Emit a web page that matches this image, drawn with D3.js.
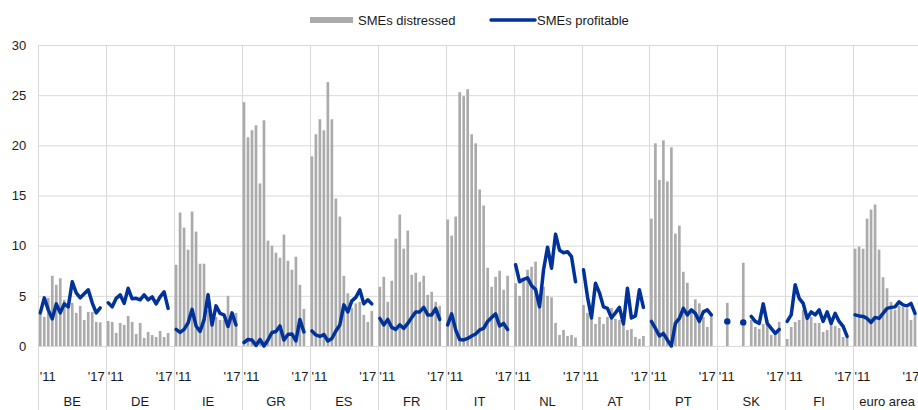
<!DOCTYPE html>
<html>
<head>
<meta charset="utf-8">
<script src="https://cdn.jsdelivr.net/npm/d3@7"></script>
<style>
  body { margin: 0; background: #fff; }
  svg { display: block; font-family: "Liberation Sans", Arial, sans-serif; }
</style>
</head>
<body>
<div id="chart"></div>
<script>
// categories
const countries = ['BE', 'DE', 'IE', 'GR', 'ES', 'FR', 'IT', 'NL', 'AT', 'PT', 'SK', 'FI', 'euro area'];
const waveCount = 16;          // survey waves per country, '11 to '17
const startLabel = "'11";
const endLabel = "'17";
const yTicks = [0, 5, 10, 15, 20, 25, 30];

// SMEs distressed (bars), one row per country, in the order above
const distressed = [
  [3.2, 2.9, 4.8, 7.0, 6.1, 6.75, 4.6, 3.9, 4.3, 3.3, 4.0, 2.6, 3.4, 3.4, 2.4, 2.35],
  [2.5, 2.4, 1.3, 2.3, 2.1, 3.0, 2.4, 1.2, 2.3, 0.8, 1.4, 1.1, 0.9, 1.5, 0.9, 1.3],
  [8.1, 13.3, 11.8, 9.6, 13.4, 11.4, 8.2, 8.2, 3.6, 3.0, 2.9, 2.6, 2.6, 5.0, 2.8, 3.3],
  [24.3, 20.8, 21.5, 22.0, 16.2, 22.5, 10.5, 10.0, 9.3, 8.8, 11.1, 8.5, 7.6, 8.9, 6.1, 3.7],
  [18.9, 21.1, 22.6, 21.5, 26.3, 22.6, 14.7, 12.9, 7.0, 5.25, 3.8, 4.25, 4.4, 3.1, 2.4, 3.5],
  [5.9, 6.9, 4.4, 6.5, 10.7, 13.1, 9.7, 11.5, 7.1, 7.3, 6.4, 7.0, 5.1, 5.4, 4.4, 4.0],
  [12.6, 11.0, 12.9, 25.3, 24.9, 25.6, 21.1, 20.2, 15.6, 14.0, 7.8, 5.9, 6.9, 7.5, 5.6, 7.0],
  [6.25, 5.0, 6.6, 7.6, 7.9, 8.4, 5.1, 5.9, 5.0, 4.85, 2.3, 1.1, 1.6, 1.0, 1.1, 0.85],
  [4.1, 3.3, 2.7, 2.2, 2.9, 2.2, 2.9, 3.8, 2.7, 2.6, 2.4, 1.6, 1.7, 0.9, 0.7, 1.0],
  [12.7, 20.2, 16.55, 20.5, 16.4, 19.8, 11.2, 12.0, 7.4, 6.3, 3.6, 4.65, 4.25, 2.9, 1.9, 3.1],
  [null, null, 4.3, null, null, null, 8.3, null, 2.6, 1.9, 1.7, 2.2, 2.6, 1.1, 1.3, 2.4],
  [0.7, 1.9, 2.4, 2.6, 3.6, 3.1, 2.9, 2.3, 2.3, 1.4, 1.6, 2.7, 2.0, 1.8, 0.9, 0.9],
  [9.7, 9.9, 9.7, 12.7, 13.6, 14.1, 9.6, 6.85, 5.75, 4.4, 3.6, 4.0, 3.9, 3.75, 2.6, 3.25]
];

// SMEs profitable (line), one row per country
const profitable = [
  [3.3, 4.8, 3.6, 2.7, 4.2, 3.3, 4.2, 3.9, 6.4, 5.3, 4.8, 5.2, 5.6, 4.3, 3.3, 3.8],
  [4.3, 3.9, 4.75, 5.1, 4.25, 5.75, 4.7, 4.75, 4.6, 5.1, 4.6, 4.9, 4.2, 4.9, 5.4, 3.75],
  [1.65, 1.35, 1.65, 2.3, 3.65, 2.0, 1.45, 2.6, 5.1, 2.1, 4.0, 3.25, 3.1, 1.95, 3.3, 2.1],
  [0.35, 0.65, 0.6, 0.05, 0.65, 0.0, 0.6, 1.35, 1.45, 2.0, 0.6, 1.15, 1.2, 0.5, 2.65, 1.4],
  [1.5, 1.1, 0.95, 1.15, 0.5, 0.75, 1.5, 2.1, 4.1, 3.4, 4.5, 4.85, 5.6, 4.2, 4.6, 4.2],
  [2.75, 2.1, 2.65, 1.85, 1.65, 2.1, 1.75, 2.25, 2.85, 3.4, 3.4, 3.85, 3.1, 3.1, 3.75, 2.65],
  [2.1, 3.2, 1.6, 0.65, 0.6, 0.75, 1.0, 1.2, 1.6, 1.75, 2.45, 2.85, 3.2, 2.0, 2.25, 1.65],
  [8.1, 6.4, 6.65, 6.8, 6.0, 5.65, 3.9, 7.6, 9.85, 7.75, 11.15, 9.55, 9.3, 9.4, 8.9, 6.4],
  [7.6, 4.9, 2.8, 6.25, 5.3, 3.9, 3.75, 2.8, 3.3, 3.85, 2.2, 5.75, 2.8, 3.0, 5.6, 3.85],
  [2.45, 1.75, 1.0, 1.25, 0.6, 0.0, 2.25, 2.75, 3.75, 3.1, 3.6, 3.25, 2.45, 3.4, 3.6, 3.1],
  [null, null, 2.45, null, null, null, 2.35, null, 2.95, 2.45, 2.25, 4.2, 2.25, 1.75, 1.25, 1.65],
  [2.45, 3.1, 6.1, 4.75, 4.25, 2.75, 3.4, 3.1, 3.6, 2.45, 3.4, 2.25, 3.25, 2.45, 1.95, 0.95],
  [3.1, 3.0, 2.95, 2.75, 2.35, 2.85, 2.75, 3.25, 3.75, 3.85, 3.9, 4.4, 4.1, 4.0, 4.25, 3.25]
];

const width = 918;
const height = 410;
const plotLeft = 38.3;
const plotRight = 921;   // last group runs just past the page edge
const plotTop = 45;
const zeroY = 346;

const barColor = '#ababab';
const lineColor = '#003299';
const gridColor = '#d9d9d9';
const textColor = '#1a1a1a';

const svg = d3.select('#chart').append('svg')
  .attr('width', width)
  .attr('height', height);

const y = d3.scaleLinear().domain([0, 30]).range([zeroY, plotTop]);

// one band per country, 17 slots inside each (16 waves + one blank slot)
const x0 = d3.scaleBand().domain(countries).range([plotLeft, plotRight]);
const x1 = d3.scaleBand()
  .domain(d3.range(waveCount + 1))
  .range([0, x0.bandwidth()])
  .paddingInner(0.33)
  .paddingOuter(0.165);

// horizontal gridlines + y labels
const yAxis = svg.append('g')
  .attr('transform', `translate(${plotLeft},0)`)
  .call(d3.axisLeft(y).tickValues(yTicks).tickSize(-(plotRight - plotLeft)).tickPadding(12));
yAxis.select('.domain').remove();
yAxis.selectAll('.tick line').attr('stroke', gridColor).attr('stroke-width', 1);
yAxis.selectAll('.tick text')
  .attr('fill', textColor)
  .style('font-size', '13px');

// vertical separators between countries, running down through the labels
const seps = countries.map(c => x0(c)).concat([plotRight]);
svg.append('g').selectAll('line')
  .data(seps)
  .enter().append('line')
  .attr('x1', d => Math.round(d) + 0.5)
  .attr('x2', d => Math.round(d) + 0.5)
  .attr('y1', plotTop)
  .attr('y2', height)
  .attr('stroke', gridColor)
  .attr('stroke-width', 1);

const groups = svg.append('g').selectAll('g.country')
  .data(countries)
  .enter().append('g')
  .attr('class', 'country')
  .attr('transform', c => `translate(${x0(c)},0)`);

// bars
groups.selectAll('rect')
  .data((c, i) => distressed[i].map((v, k) => ({ k, v })).filter(d => d.v != null))
  .enter().append('rect')
  .attr('x', d => x1(d.k))
  .attr('width', x1.bandwidth())
  .attr('y', d => y(d.v))
  .attr('height', d => zeroY - y(d.v))
  .attr('fill', barColor);

// lines
const line = d3.line()
  .defined(d => d.v != null)
  .x(d => x1(d.k) + x1.bandwidth() / 2)
  .y(d => y(d.v));

groups.append('path')
  .datum((c, i) => profitable[i].map((v, k) => ({ k, v })))
  .attr('d', line)
  .attr('fill', 'none')
  .attr('stroke', lineColor)
  .attr('stroke-width', 3.5)
  .attr('stroke-linejoin', 'round')
  .attr('stroke-linecap', 'round');

// isolated points (no neighbours) show up as dots
groups.selectAll('circle')
  .data((c, i) => {
    const row = profitable[i];
    return row.map((v, k) => ({ k, v }))
      .filter(d => d.v != null && row[d.k - 1] == null && row[d.k + 1] == null);
  })
  .enter().append('circle')
  .attr('cx', d => x1(d.k) + x1.bandwidth() / 2)
  .attr('cy', d => y(d.v))
  .attr('r', 3.2)
  .attr('fill', lineColor);

// '11 / '17 labels and country names
groups.append('text')
  .text(startLabel)
  .attr('x', 1.5)
  .attr('y', 381)
  .attr('fill', textColor)
  .style('font-size', '13px');

groups.append('text')
  .text(endLabel)
  .attr('x', x0.bandwidth() - 1.5)
  .attr('y', 381)
  .attr('text-anchor', 'end')
  .attr('fill', textColor)
  .style('font-size', '13px');

groups.append('text')
  .text(c => c)
  .attr('x', x0.bandwidth() / 2)
  .attr('y', 406)
  .attr('text-anchor', 'middle')
  .attr('fill', textColor)
  .style('font-size', '13px');

// legend
const legend = svg.append('g');
legend.append('rect')
  .attr('x', 310)
  .attr('y', 17)
  .attr('width', 43)
  .attr('height', 6)
  .attr('fill', barColor);
legend.append('text')
  .text('SMEs distressed')
  .attr('x', 358)
  .attr('y', 24.5)
  .attr('fill', textColor)
  .style('font-size', '13px');
legend.append('line')
  .attr('x1', 491)
  .attr('x2', 535)
  .attr('y1', 20)
  .attr('y2', 20)
  .attr('stroke', lineColor)
  .attr('stroke-width', 3.5)
  .attr('stroke-linecap', 'round');
legend.append('text')
  .text('SMEs profitable')
  .attr('x', 537)
  .attr('y', 24.5)
  .attr('fill', textColor)
  .style('font-size', '13px');
</script>
</body>
</html>
